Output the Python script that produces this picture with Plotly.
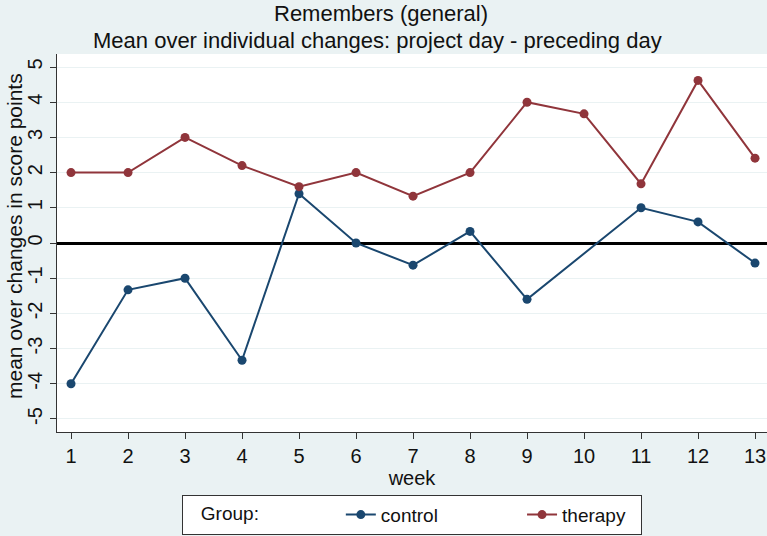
import plotly.graph_objects as go

weeks = list(range(1, 14))
control = [-4.0, -1.33, -1.0, -3.33, 1.4, 0.0, -0.63, 0.33, -1.6, None, 1.0, 0.6, -0.57]
therapy = [2.0, 2.0, 3.0, 2.2, 1.6, 2.0, 1.33, 2.0, 4.0, 3.67, 1.68, 4.62, 2.41]
y_ticks = list(range(-5, 6))
title_main = "Remembers (general)"
title_sub = "Mean over individual changes: project day - preceding day"
y_title = "mean over changes in score points"

FONT = "Liberation Sans, Arial, sans-serif"
navy = "#1A476F"
maroon = "#90353B"
BG = "#EAF2F3"
NB = "\u00a0"

fig = go.Figure()
fig.add_trace(go.Scatter(x=weeks, y=control, name="control" + NB * 15, mode="lines+markers",
                         connectgaps=True,
                         line=dict(color=navy, width=2),
                         marker=dict(color=navy, size=9, symbol="circle")))
fig.add_trace(go.Scatter(x=weeks, y=therapy, name="therapy" + NB * 2, mode="lines+markers",
                         line=dict(color=maroon, width=2),
                         marker=dict(color=maroon, size=9, symbol="circle")))

fig.add_annotation(text=title_main, xref="paper", yref="paper", x=0.456, y=1.108,
                   xanchor="center", yanchor="middle", showarrow=False,
                   font=dict(size=22, family=FONT, color="#111111"))
fig.add_annotation(text=title_sub, xref="paper", yref="paper", x=0.452, y=1.037,
                   xanchor="center", yanchor="middle", showarrow=False,
                   font=dict(size=22, family=FONT, color="#111111"))
fig.add_annotation(text=y_title, xref="paper", yref="paper", x=-0.0606, y=0.5185,
                   xanchor="center", yanchor="middle", showarrow=False, textangle=-90,
                   font=dict(size=21, family=FONT, color="#111111"))

fig.update_layout(
    width=767, height=536,
    margin=dict(l=57, r=0, t=54, b=104, autoexpand=False),
    paper_bgcolor=BG,
    plot_bgcolor="white",
    font=dict(family=FONT, size=20, color="#111111"),
    xaxis=dict(range=[0.754, 13.21], tickvals=weeks, ticktext=[str(w) for w in weeks],
               showgrid=False, zeroline=False, showline=True, linecolor="#333333", linewidth=1,
               ticks="outside", ticklen=6, tickcolor="#333333", automargin=False,
               tickfont=dict(size=20),
               title=dict(text="week", standoff=0, font=dict(size=20))),
    yaxis=dict(range=[-5.37, 5.37], tickvals=y_ticks, ticktext=[str(v) for v in y_ticks],
               tickangle=-90, tickfont=dict(size=20), automargin=False,
               showgrid=True, gridcolor=BG, gridwidth=1,
               zeroline=True, zerolinecolor="black", zerolinewidth=3,
               showline=True, linecolor="#333333", linewidth=1,
               ticks="outside", ticklen=6, tickcolor="#333333"),
    legend=dict(orientation="h", x=0.5, xanchor="center", y=-0.166, yanchor="top",
                bgcolor="white", bordercolor="#333333", borderwidth=1,
                title=dict(text=NB * 3 + "Group:" + NB * 14, side="left", font=dict(size=19)),
                font=dict(size=19), valign="middle"),
    showlegend=True,
)

fig.write_html("out.html", config={"displayModeBar": False},
               post_script="document.body.style.margin='0';document.body.style.padding='0';document.body.style.overflow='hidden';")
